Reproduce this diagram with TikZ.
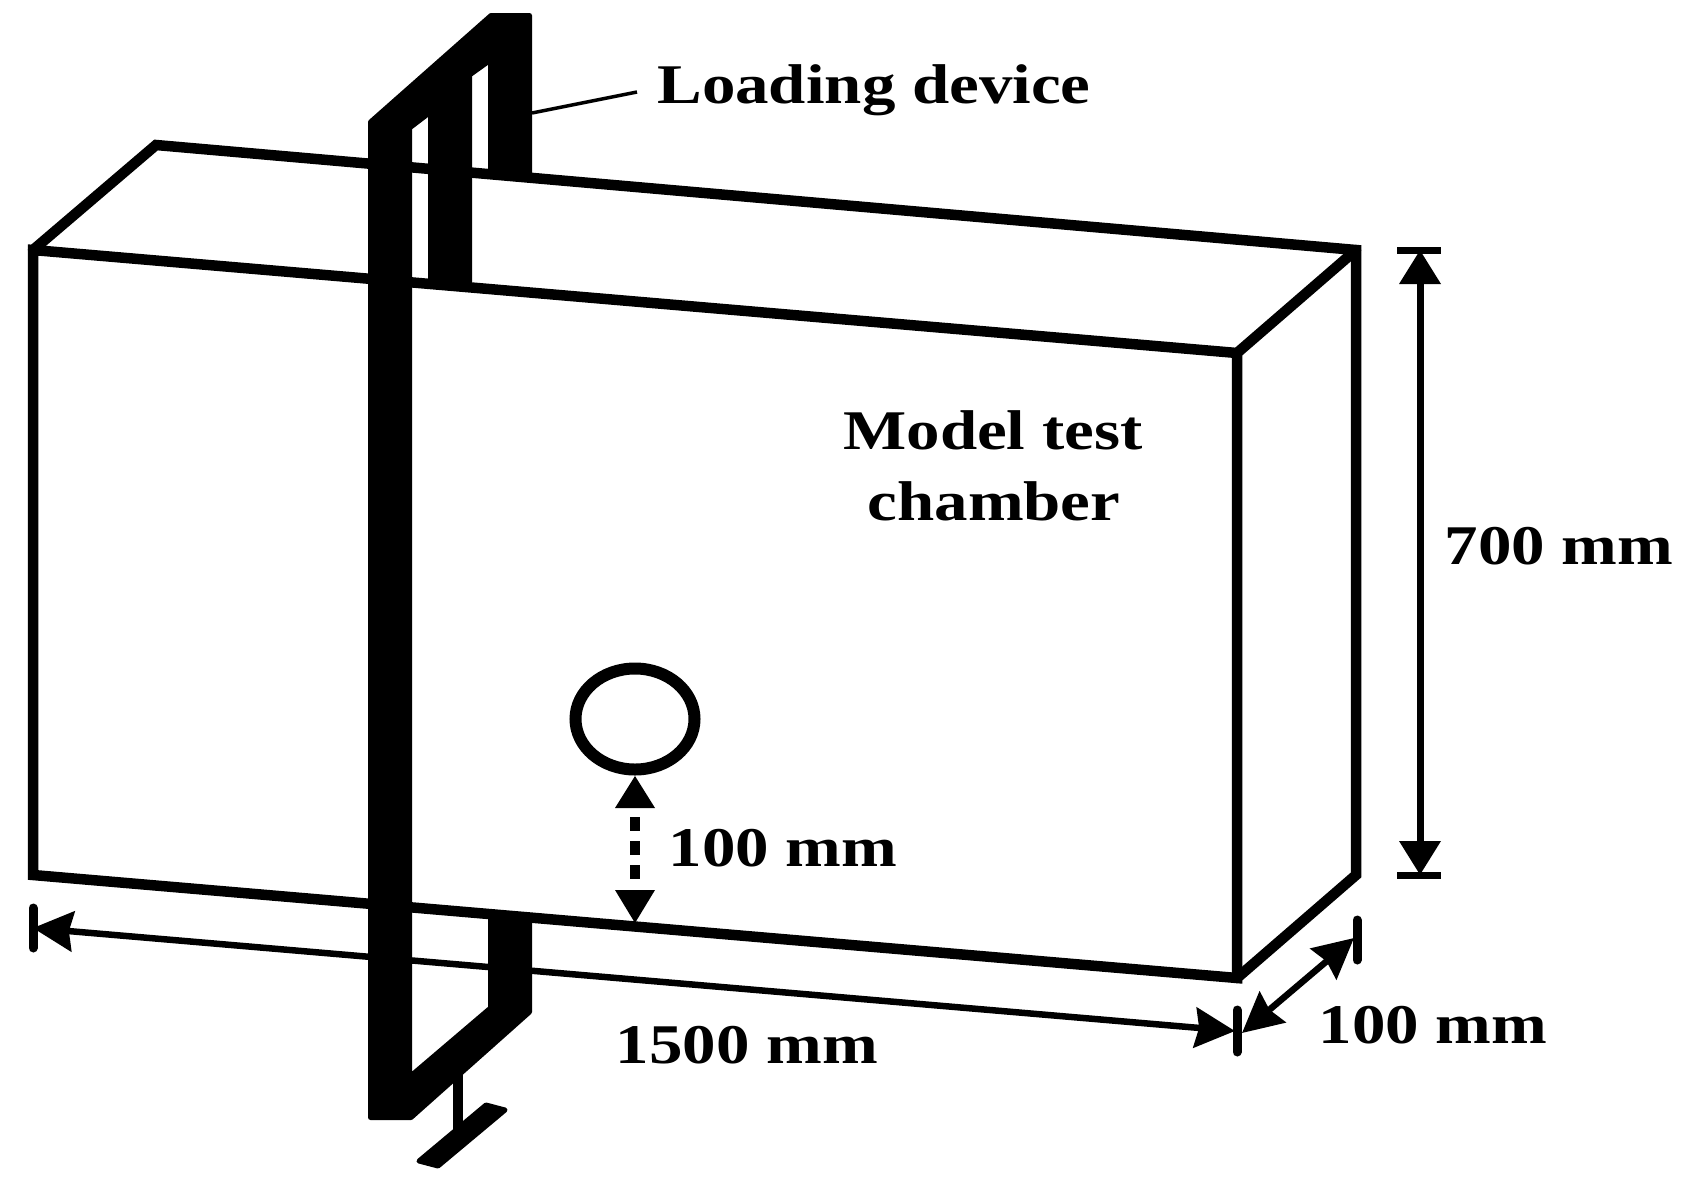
\documentclass[tikz,border=0pt]{standalone}
\usepackage{fontspec}
\setmainfont{Liberation Serif}
\usetikzlibrary{arrows.meta,shapes.geometric}
\tikzset{
  boxline/.style={line width=10.5pt,line join=miter,line cap=round},
  tickline/.style={line width=9pt,line cap=round},
  bighead/.style={{Triangle[width=40pt,length=34pt]}-{Triangle[width=40pt,length=34pt]},line width=7pt},
  slanthead/.style={{Stealth[width=40pt,length=40pt,inset=4pt]}-{Stealth[width=40pt,length=40pt,inset=4pt]},line width=6.5pt},
  lbl/.style={font=\bfseries\fontsize{56}{60}\selectfont,inner sep=0pt,xscale=1.195,transform shape,anchor=center},
  solidblack/.style={fill=black,draw=black,line width=5pt,line join=round}
}
\begin{document}
\begin{tikzpicture}[x=1pt,y=-1pt]
\useasboundingbox (0,0) rectangle (1689,1184);
% corners
\coordinate (ftl) at (33,250);
\coordinate (ftr) at (1237,353);
\coordinate (fbl) at (33,875);
\coordinate (fbr) at (1237,978);
\coordinate (btl) at (156,145);
\coordinate (btr) at (1356,250);
\coordinate (bbr) at (1356,875);
% 1500 mm dimension (behind the device)
\coordinate (dl1) at (33,928);
\coordinate (dl2) at (1235,1031);
\draw[slanthead] (dl1) -- (dl2);
\draw[tickline] (33,908) -- (33,948);
\draw[tickline] (1237,1010) -- (1237,1052);
% chamber
\draw[boxline] (ftl) -- (ftr) -- (fbr) -- (fbl) -- cycle;
\draw[boxline] (ftl) -- (btl) -- (btr) -- (bbr) -- (fbr);
\draw[boxline] (ftr) -- (btr);
% stem and foot
\draw[line width=10pt] (458,1065) -- (458,1130);
\fill[solidblack] (419,1161) -- (438,1166) -- (505,1110) -- (486,1105) -- cycle;
% loading device
\draw[solidblack] (370.5,122) -- (491,15.5) -- (529.5,15.5) -- (529.5,173) -- (490.5,171)
  -- (490.5,60) -- (469.5,75) -- (469.5,282) -- (430.5,282) -- (430.5,112) -- (409.5,128)
  -- (409.5,1077) -- (490.5,1008) -- (490.5,917) -- (529.5,920) -- (529.5,1012)
  -- (411,1117.5) -- (370.5,1117.5) -- cycle;
% leader
\node[lbl] (ld) at (874,90) {Loading device};
\coordinate (ldfoot) at (532,113);
\draw[line width=3.5pt] (ldfoot) -- (637,92);
% tunnel
\node[draw,line width=12pt,ellipse,minimum width=119pt,minimum height=101pt,inner sep=0pt] (tunnel) at (635,719) {};
% tunnel offset
\coordinate (tun) at (635,776);
\coordinate (bot) at (635,923);
\fill (tun) -- (655,808) -- (615,808) -- cycle;
\fill (bot) -- (655,890) -- (615,890) -- cycle;
\draw[line width=10pt,dash pattern=on 14pt off 10pt] (635,817) -- (635,884);
% 700 mm
\coordinate (h1) at (1420,250);
\coordinate (h2) at (1420,875);
\draw[bighead] (h1) -- (h2);
\draw[line width=7pt] (1397,250) -- (1441,250);
\draw[line width=7pt] (1397,875) -- (1441,875);
% depth dimension
\coordinate (d1) at (1242,1033);
\coordinate (d2) at (1354,938);
\draw[slanthead] (d1) -- (d2);
\draw[tickline] (1357,920) -- (1357,960);
% labels
\node[lbl] (mt) at (993,430) {Model test};
\node[lbl] (ch) at (994,501) {chamber};
\node[lbl] (h700) at (1559,546) {700 mm};
\node[lbl] (c100) at (783,848) {100 mm};
\node[lbl] (l1500) at (747,1045) {1500 mm};
\node[lbl] (d100) at (1433,1025) {100 mm};
\end{tikzpicture}
\end{document}
